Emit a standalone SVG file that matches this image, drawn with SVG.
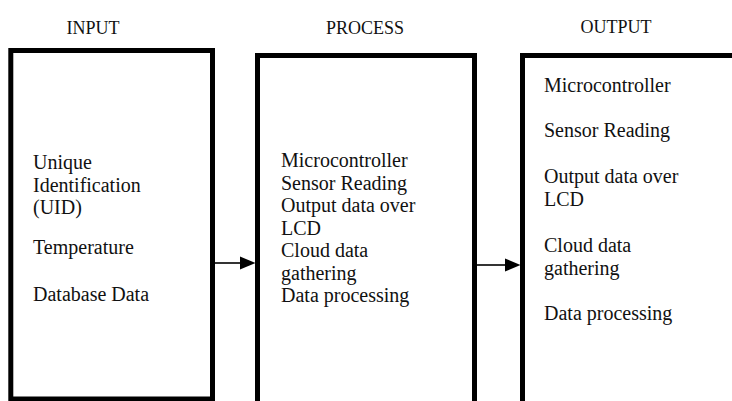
<svg xmlns="http://www.w3.org/2000/svg" width="732" height="401" viewBox="0 0 732 401">
<style>
.box{fill:#ffffff;stroke:#000000;stroke-width:5}
.t{font-family:"Liberation Serif","Times New Roman",serif;font-size:20px;fill:#111111}
.h{font-family:"Liberation Serif","Times New Roman",serif;font-size:18px;fill:#111111}
.conn{stroke:#000000;stroke-width:1.6;fill:none}
.head{fill:#000000}
</style>
<rect width="732" height="401" fill="#ffffff"/>
<g id="input">
<text class="h" x="93" y="34" text-anchor="middle">INPUT</text>
<rect class="box" x="10.8" y="50.5" width="201.7" height="348.5"/>
<text class="t" x="33" y="169">Unique</text>
<text class="t" x="33" y="191.5">Identification</text>
<text class="t" x="33" y="214">(UID)</text>
<text class="t" x="33" y="254">Temperature</text>
<text class="t" x="33" y="301">Database Data</text>
</g>
<g id="process">
<text class="h" x="365" y="34" text-anchor="middle">PROCESS</text>
<rect class="box" x="257.5" y="55.5" width="217" height="360"/>
<text class="t" x="281" y="167">Microcontroller</text>
<text class="t" x="281" y="189.5">Sensor Reading</text>
<text class="t" x="281" y="212">Output data over</text>
<text class="t" x="281" y="234.5">LCD</text>
<text class="t" x="281" y="257">Cloud data</text>
<text class="t" x="281" y="279.5">gathering</text>
<text class="t" x="281" y="302">Data processing</text>
</g>
<g id="output">
<text class="h" x="616" y="33" text-anchor="middle">OUTPUT</text>
<rect class="box" x="522.5" y="55.5" width="230" height="360"/>
<text class="t" x="544" y="92">Microcontroller</text>
<text class="t" x="544" y="137">Sensor Reading</text>
<text class="t" x="544" y="183">Output data over</text>
<text class="t" x="544" y="205.5">LCD</text>
<text class="t" x="544" y="252">Cloud data</text>
<text class="t" x="544" y="274.5">gathering</text>
<text class="t" x="544" y="320">Data processing</text>
</g>
<g id="connectors">
<line class="conn" x1="214.5" y1="263" x2="242" y2="263"/>
<polygon class="head" points="240,256.5 255.5,263 240,269.5"/>
<line class="conn" x1="476.5" y1="265" x2="507" y2="265"/>
<polygon class="head" points="505,258.5 520.5,265 505,271.5"/>
</g>
</svg>
